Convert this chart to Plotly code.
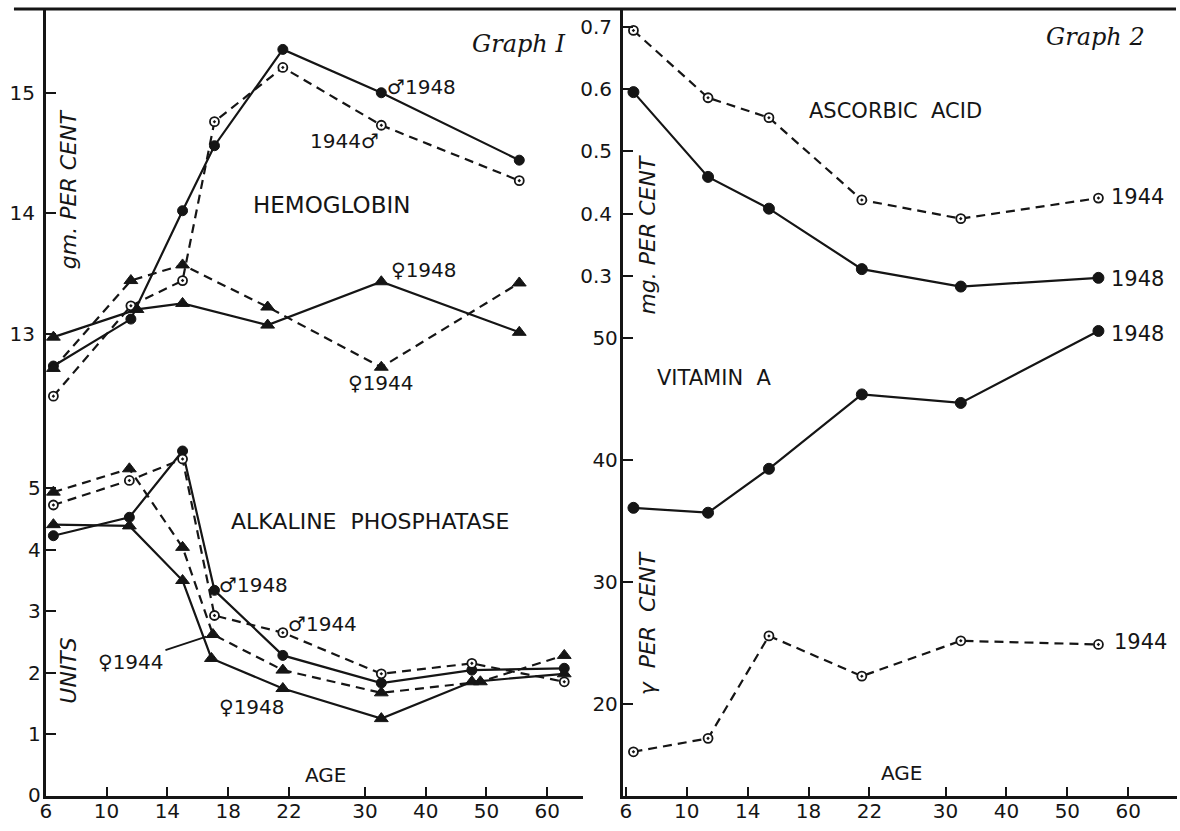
import numpy as np
import plotly.graph_objects as go

W, H = 1180, 831

# ---- age scale (the original uses a compressed scale beyond 22) ----
TICK_AGES = [6, 10, 14, 18, 22, 30, 40, 50, 60]
TICK_LABELS = ["6", "10", "14", "18", "22", "30", "40", "50", "60"]
SCALE_AGES = [6, 10, 14, 18, 22, 30, 40, 50, 60, 70]
SCALE_POS = [0, 1, 2, 3, 4, 5.25, 6.25, 7.25, 8.25, 9.25]

def pos(ages):
    return np.interp(ages, SCALE_AGES, SCALE_POS)

# ---- Graph I : hemoglobin (gm per cent) ----
hb_m_ages = [6.5, 11.6, 15.0, 17.1, 21.6, 32.7, 55.4]
hb_m_1948 = [12.73, 13.12, 14.02, 14.56, 15.36, 15.00, 14.44]
hb_m_1944 = [12.48, 13.23, 13.44, 14.76, 15.21, 14.73, 14.27]
hb_f_ages_1948 = [6.5, 12.0, 15.0, 20.6, 32.7, 55.4]
hb_f_1948 = [12.97, 13.20, 13.25, 13.07, 13.43, 13.01]
hb_f_ages_1944 = [6.5, 11.6, 15.0, 20.6, 32.7, 55.4]
hb_f_1944 = [12.71, 13.44, 13.57, 13.22, 12.72, 13.42]

# ---- Graph I : alkaline phosphatase (units) ----
ap_ages = [6.5, 11.5, 15.0, 17.1, 21.6, 32.7, 47.6, 62.8]
ap_ages_f1944 = [6.5, 11.5, 15.0, 17.0, 21.6, 32.7, 49.0, 62.8]
ap_ages_f1948 = [6.5, 11.5, 15.0, 16.9, 21.6, 32.7, 47.6, 62.8]
ap_m_1948 = [4.23, 4.53, 5.61, 3.34, 2.28, 1.83, 2.04, 2.07]
ap_m_1944 = [4.73, 5.13, 5.48, 2.93, 2.65, 1.98, 2.15, 1.85]
ap_f_1948 = [4.41, 4.39, 3.50, 2.23, 1.74, 1.25, 1.85, 1.98]
ap_f_1944 = [4.94, 5.32, 4.04, 2.62, 2.04, 1.67, 1.85, 2.28]

# ---- Graph 2 : ascorbic acid (mg per cent) and vitamin A (gamma per cent) ----
g2_ages = [6.5, 11.4, 15.4, 21.5, 32.5, 55.1]
asc_1944 = [0.694, 0.586, 0.554, 0.422, 0.392, 0.425]
asc_1948 = [0.595, 0.459, 0.408, 0.311, 0.283, 0.297]
vita_1948 = [36.1, 35.7, 39.3, 45.4, 44.7, 50.6]
vita_1944 = [16.1, 17.2, 25.6, 22.3, 25.2, 24.9]

HB_TICKS = [13, 14, 15]
AP_TICKS = [0, 1, 2, 3, 4, 5]
ASC_TICKS = [0.3, 0.4, 0.5, 0.6, 0.7]
ASC_LABELS = ["0.3", "0.4", "0.5", "0.6", "0.7"]
VA_TICKS = [20, 30, 40, 50]

INK = "#151515"
FONT = "DejaVu Sans"
DASH = "9px,6px"

fig = go.Figure()

def add(xa, ya, ages, vals, dashed, symbol, size):
    hollow = symbol == "circle-dot"
    fig.add_trace(go.Scatter(
        x=pos(ages), y=vals, xaxis=xa, yaxis=ya, mode="lines+markers",
        line=dict(color=INK, width=2.2, dash=DASH if dashed else "solid"),
        marker=dict(symbol=symbol, size=size, color="white" if hollow else INK,
                    line=dict(color=INK, width=1.8 if hollow else 1)),
        showlegend=False, hoverinfo="skip"))

# hemoglobin
add("x", "y", hb_m_ages, hb_m_1948, False, "circle", 10)
add("x", "y", hb_m_ages, hb_m_1944, True, "circle-dot", 9)
add("x", "y", hb_f_ages_1948, hb_f_1948, False, "triangle-up", 12)
add("x", "y", hb_f_ages_1944, hb_f_1944, True, "triangle-up", 12)
# alkaline phosphatase
add("x", "y2", ap_ages, ap_m_1948, False, "circle", 10)
add("x", "y2", ap_ages, ap_m_1944, True, "circle-dot", 9)
add("x", "y2", ap_ages_f1948, ap_f_1948, False, "triangle-up", 12)
add("x", "y2", ap_ages_f1944, ap_f_1944, True, "triangle-up", 12)
# ascorbic acid
add("x2", "y3", g2_ages, asc_1944, True, "circle-dot", 9)
add("x2", "y3", g2_ages, asc_1948, False, "circle", 11)
# vitamin A
add("x2", "y4", g2_ages, vita_1948, False, "circle", 11)
add("x2", "y4", g2_ages, vita_1944, True, "circle-dot", 9)

def px(x):
    return x / W

def py(y):
    return 1 - y / H

TOP, BOT = 9, 807
ydom = [py(BOT), py(TOP)]

tickfont = dict(family=FONT, size=20, color=INK)
common_x = dict(showgrid=False, zeroline=False, showline=True, linecolor=INK, linewidth=2.5,
                ticks="inside", ticklen=10, tickwidth=2, tickcolor=INK, ticklabelstandoff=-5,
                tickvals=list(pos(TICK_AGES)), ticktext=TICK_LABELS, tickfont=tickfont)
common_y = dict(showgrid=False, zeroline=False, ticks="inside", ticklen=10, tickwidth=2,
                tickcolor=INK, tickfont=tickfont, domain=ydom, ticklabelstandoff=4)

lx0, lx1 = 40, 580
lppu = 504 / 8.25
rx0, rx1 = 620, 1177
rppu = 505 / 8.25

hb_range = [15 - (BOT - 94) / 122, 15 + (94 - TOP) / 122]
ap_range = [5 - (BOT - 495) / 62.2, 5 + (495 - TOP) / 62.2]
asc_range = [0.3 - (BOT - 2 - 279) / 630, 0.3 + (279 - TOP) / 630]
va_range = [50 - (BOT - 2 - 342) / 12.33, 50 + (342 - TOP) / 12.33]

fig.update_layout(
    width=W, height=H, margin=dict(l=0, r=0, t=0, b=0),
    paper_bgcolor="white", plot_bgcolor="white",
    xaxis=dict(common_x, domain=[px(lx0), px(lx1)], range=[0, (lx1 - lx0) / lppu], anchor="y"),
    xaxis2=dict(common_x, domain=[px(rx0), px(rx1)],
                range=[(rx0 - 623) / rppu, (rx1 - 623) / rppu], anchor="y3"),
    yaxis=dict(common_y, range=hb_range, tickvals=HB_TICKS, anchor="x",
               showline=True, linecolor=INK, linewidth=2.5),
    yaxis2=dict(common_y, range=ap_range, tickvals=AP_TICKS, anchor="x", overlaying="y",
                showline=False),
    yaxis3=dict(common_y, range=asc_range, tickvals=ASC_TICKS, ticktext=ASC_LABELS, anchor="x2",
                showline=True, linecolor=INK, linewidth=2.5),
    yaxis4=dict(common_y, range=va_range, tickvals=VA_TICKS, anchor="x2", overlaying="y3",
                showline=False),
)

fig.add_shape(type="line", xref="paper", yref="paper", x0=px(8), x1=px(1176), y0=py(9), y1=py(9),
              line=dict(color=INK, width=3))

def label(x, y, text, size=19, angle=0, italic=False, family=FONT):
    if italic:
        text = "<i>" + text + "</i>"
    fig.add_annotation(x=px(x), y=py(y), xref="paper", yref="paper", text=text, showarrow=False,
                       textangle=angle, xanchor="center", yanchor="middle",
                       font=dict(family=family, size=size, color=INK))

# Graph I labels
label(515, 45, "Graph I", size=24, italic=True, family="DejaVu Serif")
label(418, 88, "♂1948", size=20)
label(340, 143, "1944♂", size=20)
label(327, 208, "HEMOGLOBIN", size=23)
label(420, 274, "♀1948", size=20)
label(377, 388, "♀1944", size=20)
label(366, 528, "ALKALINE&nbsp;&nbsp;PHOSPHATASE", size=22)
label(249, 593, "♂1948", size=20)
label(318, 632, "♂1944", size=20)
label(247, 716, "♀1948", size=20)
label(321, 785, "AGE", size=20)
label(63, 192, "gm.&nbsp;PER&nbsp;CENT", size=22, angle=-90, italic=True)
label(63, 680, "UNITS", size=22, angle=-90, italic=True)

fig.add_annotation(x=pos(ap_ages_f1944[3]), y=ap_f_1944[3], xref="x", yref="y2",
                   text="♀1944", showarrow=True, arrowhead=0, arrowwidth=1.8, arrowcolor=INK,
                   ax=-82, ay=27, standoff=7, font=dict(family=FONT, size=20, color=INK))

# Graph 2 labels
label(1095, 38, "Graph 2", size=24, italic=True, family="DejaVu Serif")
label(894, 112, "ASCORBIC&nbsp;&nbsp;ACID", size=21)
label(1137, 200, "1944", size=21)
label(1137, 283, "1948", size=21)
label(1137, 338, "1948", size=21)
label(712, 383, "VITAMIN&nbsp;&nbsp;A", size=21)
label(1140, 651, "1944", size=21)
label(900, 783, "AGE", size=20)
label(645, 238, "mg.&nbsp;PER&nbsp;CENT", size=22, angle=-90, italic=True)
label(645, 632, "γ&nbsp;&nbsp;PER&nbsp;&nbsp;CENT", size=22, angle=-90, italic=True)

fig.write_html("out.html", config={"displayModeBar": False},
               post_script="document.body.style.margin='0';document.body.style.overflow='hidden';")
